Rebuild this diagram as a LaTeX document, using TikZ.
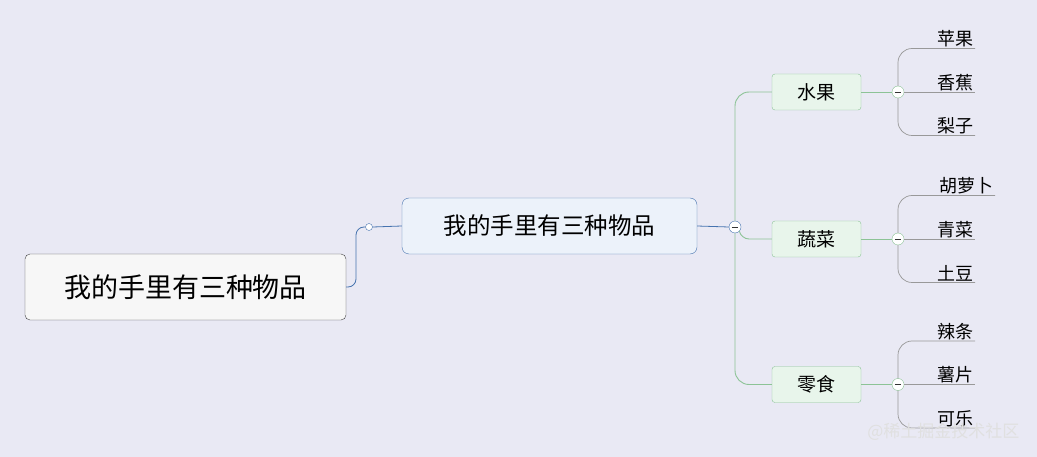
\documentclass[tikz,border=0pt]{standalone}
\usepackage{fontspec}
\setmainfont{Noto Sans CJK SC}
\definecolor{bl}{RGB}{70,115,175}
\definecolor{gr}{RGB}{140,195,150}
\begin{document}
\begin{tikzpicture}[x=1pt,y=-1pt,
  rootbox/.style={draw=black!75,fill=black!3,rounded corners=5pt,minimum width=321pt,minimum height=66pt,font=\fontsize{27}{30}\selectfont,inner sep=0pt},
  mainbox/.style={draw=bl,fill={rgb,255:red,236;green,242;blue,250},rounded corners=7pt,minimum width=295pt,minimum height=56pt,font=\fontsize{23.5}{26}\selectfont,inner sep=0pt},
  catbox/.style={draw=gr,fill={rgb,255:red,232;green,245;blue,235},rounded corners=3pt,minimum width=89pt,minimum height=36pt,font=\fontsize{19}{22}\selectfont,inner sep=0pt},
  leaf/.style={font=\fontsize{18}{20}\selectfont,inner sep=1pt,anchor=south east},
  knob/.style={circle,draw,fill=white,minimum size=12pt,inner sep=0pt},
  blink/.style={draw=bl,line width=0.8pt},
  glink/.style={draw=gr,line width=0.9pt},
  llink/.style={draw=black!40,line width=0.7pt}]
\fill[fill={rgb,255:red,233;green,233;blue,244}] (0,0) rectangle (1037,457);
\node[rootbox] (root) at (185.5,287) {我的手里有三种物品};
\node[mainbox] (main) at (549.5,226) {我的手里有三种物品};
\node[circle,draw=bl,fill=white,minimum size=7pt,inner sep=0pt] (c0) at (369,227) {};
\draw[blink,rounded corners=8pt] (root.east) -- (356,287) -- (356,227) -- (c0.west);
\draw[blink] (c0.east) -- (main.west);
\node[knob,draw=bl] (k0) at (735,227) {};
\draw[blink] (main.east) -- (k0.west);
\node[catbox] (a) at (816.5,92) {水果};
\node[catbox] (b) at (816.5,239) {蔬菜};
\node[catbox] (c) at (816.5,384.5) {零食};
\draw[glink,rounded corners=14pt] (k0.north) -- (735,92) -- (a.west);
\draw[glink,rounded corners=14pt] (k0.south) -- (735,384.5) -- (c.west);
\draw[glink,rounded corners=8pt] (k0.south east) -- (741,239) -- (b.west);
\draw[black!80,line width=0.8pt] (k0.west)++(3,0) -- ++(6,0);
\foreach \n/\y/\p/\q/\r/\wa in {a/92/苹果/香蕉/梨子/975, b/239/胡萝卜/青菜/土豆/995, c/384.5/辣条/薯片/可乐/975}{
  \node[knob,draw=gr] (k\n) at (898,\y) {};
  \draw[black!80,line width=0.8pt] (k\n.west)++(3,0) -- ++(6,0);
  \draw[glink] (\n.east) -- (k\n.west);
  \coordinate (u\n) at (\wa,\y-43.5);
  \coordinate (m\n) at (975,\y);
  \coordinate (d\n) at (975,\y+43.5);
  \draw[llink,rounded corners=14pt] (k\n.north) -- (898,\y-43.5) -- (u\n);
  \draw[llink] (k\n.east) -- (m\n);
  \draw[llink,rounded corners=14pt] (k\n.south) -- (898,\y+43.5) -- (d\n);
  \node[leaf] at (u\n) {\p};
  \node[leaf] at (m\n) {\q};
  \node[leaf] at (d\n) {\r};
}
\node[font=\fontsize{17}{19}\selectfont,text=white!88!black,anchor=east] (wm) at (1023,432) {@稀土掘金技术社区};
\end{tikzpicture}
\end{document}
